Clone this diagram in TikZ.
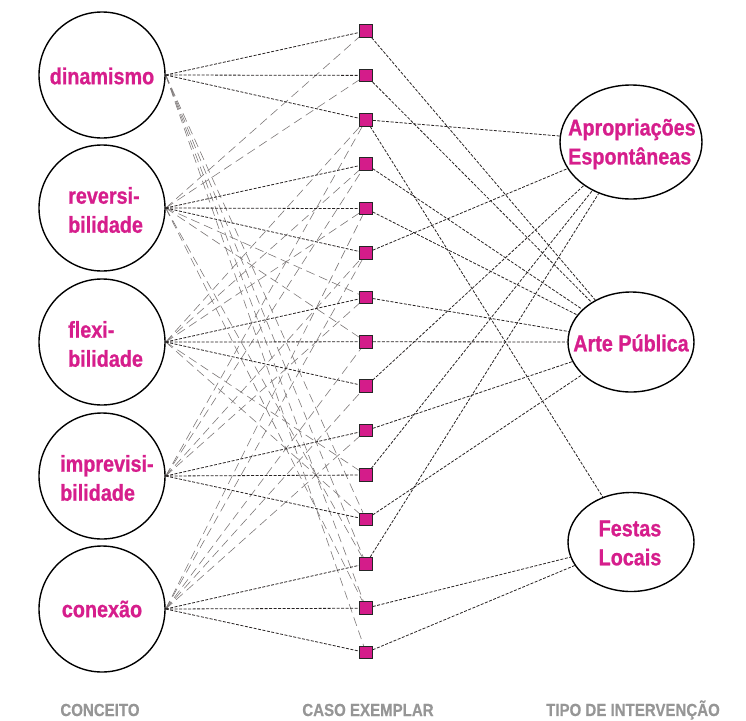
\documentclass[tikz,border=0pt]{standalone}
\usepackage{fontspec}
\newfontfamily\labfont[FakeStretch=0.86,FakeBold=0.9]{Liberation Sans Bold}
\newfontfamily\axisfont[FakeStretch=0.86,FakeBold=0.5]{Liberation Sans Bold}
\usetikzlibrary{shapes.geometric}
\definecolor{labelpink}{RGB}{214,30,140}
\definecolor{boxpink}{RGB}{212,28,138}
\definecolor{axisgray}{RGB}{150,150,150}
\definecolor{linkdark}{RGB}{40,35,35}
\definecolor{linkgray}{RGB}{125,120,120}
\pgfdeclarelayer{background}
\pgfsetlayers{background,main}
\begin{document}
\begin{tikzpicture}[x=1pt,y=-1pt,
  ring/.style={circle,draw=black,line width=1.4pt,minimum size=126pt,inner sep=0pt},
  oval/.style={ellipse,draw=black,line width=1.4pt,inner sep=0pt},
  tag/.style={text=labelpink,font=\labfont\fontsize{23}{29}\selectfont,align=left,inner sep=0pt},
  casebox/.style={rectangle,draw=black!85,line width=1pt,fill=boxpink,minimum size=12.5pt,inner sep=0pt},
  link/.style={draw=linkdark,line width=0.8pt,dash pattern=on 3pt off 1.5pt},
  echo/.style={draw=linkgray,line width=0.6pt,dash pattern=on 9pt off 5pt},
  axis/.style={text=axisgray,font=\axisfont\fontsize{17.5}{20}\selectfont,inner sep=0pt}]
\useasboundingbox (0,0) rectangle (746,720);

% concepts
\node[ring] (dina) at (102,75) {};
\node[ring] (reve) at (102,208) {};
\node[ring] (flex) at (102,342) {};
\node[ring] (impr) at (102,476) {};
\node[ring] (cone) at (102,609) {};
\node[tag] at (102,76) {dinamismo};
\node[tag,anchor=west] at (68,210) {reversi-\\bilidade};
\node[tag,anchor=west] at (68,344) {flexi-\\bilidade};
\node[tag,anchor=west] at (60,478) {imprevisi-\\bilidade};
\node[tag] at (102,609) {conexão};

% intervention types
\node[oval,minimum width=142pt,minimum height=114pt] (apro) at (631,142) {};
\node[oval,minimum width=126pt,minimum height=100pt] (arte) at (631,342) {};
\node[oval,minimum width=126pt,minimum height=99pt] (fest) at (631,542) {};
\node[tag,anchor=west] at (568,144) {Apropriações\\Espontâneas};
\node[tag] at (631,343) {Arte Pública};
\node[tag] at (630,543) {Festas\\Locais};

% example cases
\foreach \k in {0,...,14}
  \node[casebox] (c\k) at (366,{31+44.4*\k}) {};

% column titles
\node[axis] at (100,710) {CONCEITO};
\node[axis] at (368,710) {CASO EXEMPLAR};
\node[axis] at (633,710) {TIPO DE INTERVENÇÃO};

\begin{pgfonlayer}{background}
% secondary concept links
\foreach \k in {11,12,13,14} \draw[echo] (dina.east) -- (c\k);
\foreach \k in {0,1,6,7,12,13} \draw[echo] (reve.east) -- (c\k);
\foreach \k in {2,3,4,10,11} \draw[echo] (flex.east) -- (c\k);
\foreach \k in {2,3,5,6} \draw[echo] (impr.east) -- (c\k);
\foreach \k in {4,5,7,8,9} \draw[echo] (cone.east) -- (c\k);
% main concept links
\foreach \k in {0,1,2} \draw[link] (dina.east) -- (c\k);
\foreach \k in {3,4,5} \draw[link] (reve.east) -- (c\k);
\foreach \k in {6,7,8} \draw[link] (flex.east) -- (c\k);
\foreach \k in {9,10,11} \draw[link] (impr.east) -- (c\k);
\foreach \k in {12,13,14} \draw[link] (cone.east) -- (c\k);
% cases to intervention types
\foreach \k in {2,5,8,10,12} \draw[link] (c\k) -- (apro);
\foreach \k in {0,1,3,4,6,7,9,11} \draw[link] (c\k) -- (arte);
\foreach \k in {2,13,14} \draw[link] (c\k) -- (fest);
\end{pgfonlayer}
\end{tikzpicture}
\end{document}
